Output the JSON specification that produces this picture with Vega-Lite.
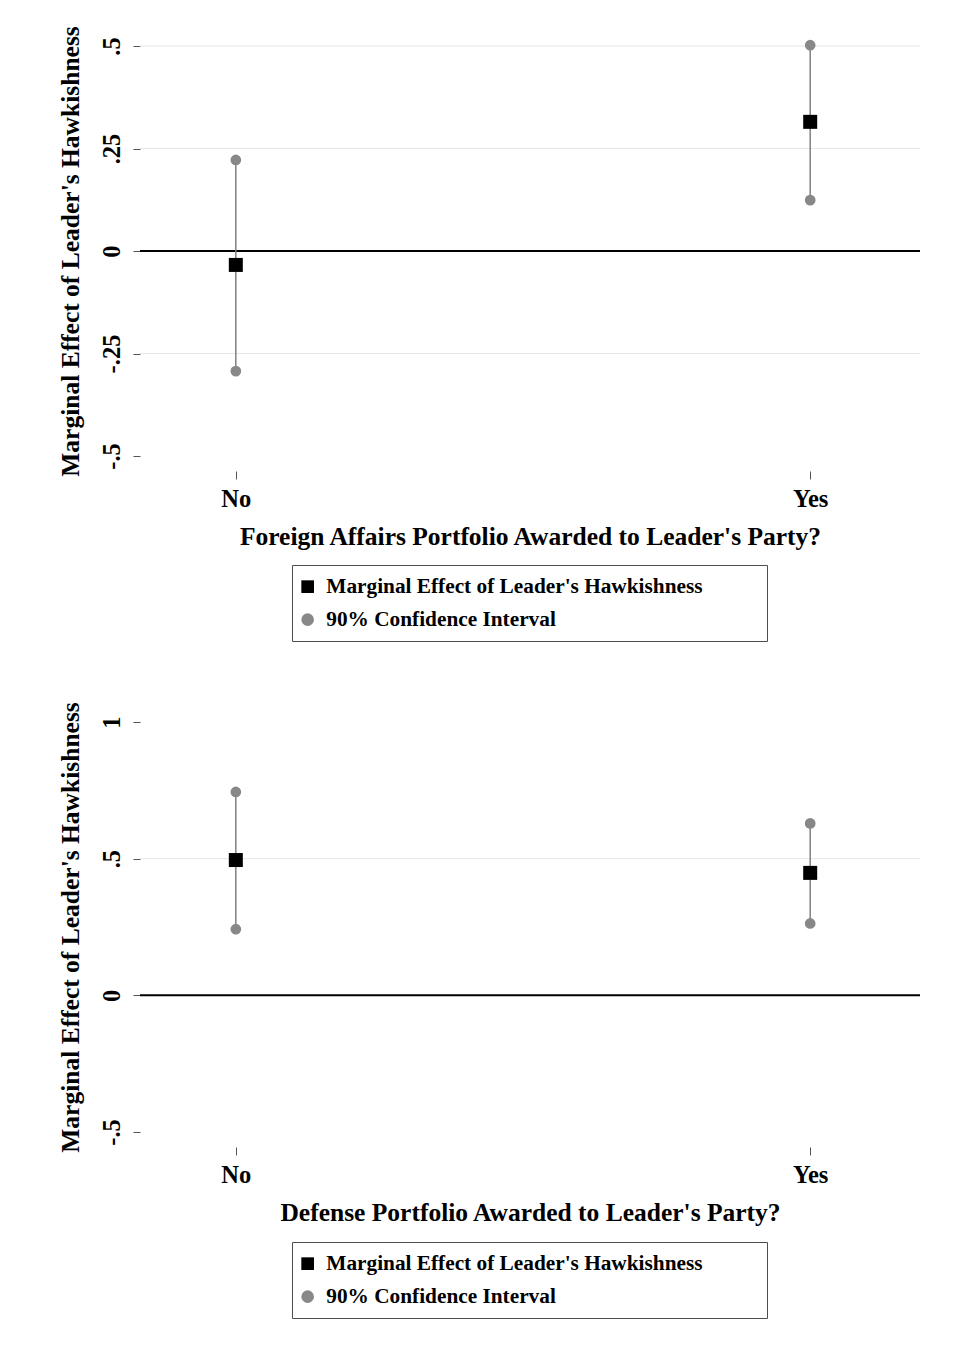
{
  "$schema": "https://vega.github.io/schema/vega-lite/v6.json",
  "background": "white",
  "padding": {"left": 58, "top": 25, "right": 5, "bottom": 5},
  "config": {
    "view": {"stroke": null},
    "font": "Liberation Serif",
    "axis": {
      "labelFont": "Liberation Serif",
      "titleFont": "Liberation Serif",
      "labelFontWeight": "bold",
      "titleFontWeight": "bold",
      "labelColor": "black",
      "titleColor": "black",
      "labelFontSize": 24.5,
      "titleFontSize": 25.5,
      "domain": false,
      "grid": false,
      "tickColor": "#555555",
      "tickWidth": 1
    },
    "axisX": {"offset": 15, "tickSize": 8, "labelPadding": 8, "titlePadding": 14, "labelAngle": 0},
    "axisY": {"tickSize": 7, "labelPadding": 9, "titlePadding": 16, "labelAngle": 270},
    "legend": {
      "orient": "none",
      "title": null,
      "direction": "vertical",
      "strokeColor": "#4d4d4d",
      "fillColor": "white",
      "padding": 11,
      "labelFont": "Liberation Serif",
      "labelFontSize": 21.3,
      "labelFontWeight": "bold",
      "labelColor": "black",
      "labelLimit": 0,
      "rowPadding": 11,
      "labelOffset": 8,
      "symbolOffset": -6,
      "symbolSize": 160,
      "symbolStrokeWidth": 0
    }
  },
  "datasets": {
    "pts": [
      {"panel": "top", "cat": "No", "series": "Marginal Effect of Leader's Hawkishness", "value": -0.034},
      {"panel": "top", "cat": "No", "series": "90% Confidence Interval", "value": 0.222},
      {"panel": "top", "cat": "No", "series": "90% Confidence Interval", "value": -0.293},
      {"panel": "top", "cat": "Yes", "series": "Marginal Effect of Leader's Hawkishness", "value": 0.315},
      {"panel": "top", "cat": "Yes", "series": "90% Confidence Interval", "value": 0.502},
      {"panel": "top", "cat": "Yes", "series": "90% Confidence Interval", "value": 0.124},
      {"panel": "bottom", "cat": "No", "series": "Marginal Effect of Leader's Hawkishness", "value": 0.495},
      {"panel": "bottom", "cat": "No", "series": "90% Confidence Interval", "value": 0.744},
      {"panel": "bottom", "cat": "No", "series": "90% Confidence Interval", "value": 0.242},
      {"panel": "bottom", "cat": "Yes", "series": "Marginal Effect of Leader's Hawkishness", "value": 0.448},
      {"panel": "bottom", "cat": "Yes", "series": "90% Confidence Interval", "value": 0.629},
      {"panel": "bottom", "cat": "Yes", "series": "90% Confidence Interval", "value": 0.263}
    ]
  },
  "spacing": 59,
  "vconcat": [
    {
      "width": 780,
      "height": 410,
      "layer": [
        {
          "data": {"values": [{"g": 0.5}, {"g": 0.25}, {"g": -0.25}]},
          "mark": {"type": "rule", "color": "#e6e6e6", "strokeWidth": 1},
          "encoding": {"y": {"field": "g", "type": "quantitative", "title": "Marginal Effect of Leader's Hawkishness", "scale": {"domain": [-0.5, 0.5], "nice": false, "zero": false}}}
        },
        {
          "data": {"values": [{"z": 0}]},
          "mark": {"type": "rule", "color": "black", "strokeWidth": 2},
          "encoding": {"y": {"field": "z", "type": "quantitative", "title": "Marginal Effect of Leader's Hawkishness", "scale": {"domain": [-0.5, 0.5], "nice": false, "zero": false}}}
        },
        {
          "data": {"name": "pts"},
          "transform": [{"filter": "datum.panel == 'top' && datum.series == '90% Confidence Interval'"}],
          "mark": {"type": "rule", "color": "#808080", "strokeWidth": 1.5},
          "encoding": {
            "x": {"field": "cat", "type": "nominal", "title": "Foreign Affairs Portfolio Awarded to Leader's Party?", "scale": {"type": "point", "padding": 0.179, "align": 0.466}},
            "y": {"aggregate": "min", "field": "value", "type": "quantitative", "title": "Marginal Effect of Leader's Hawkishness", "scale": {"domain": [-0.5, 0.5], "nice": false, "zero": false}},
            "y2": {"aggregate": "max", "field": "value"}
          }
        },
        {
          "data": {"name": "pts"},
          "transform": [{"filter": "datum.panel == 'top' && datum.series == '90% Confidence Interval'"}],
          "mark": {"type": "point", "filled": true, "opacity": 1, "size": 115},
          "encoding": {
            "x": {"field": "cat", "type": "nominal", "title": "Foreign Affairs Portfolio Awarded to Leader's Party?", "scale": {"type": "point", "padding": 0.179, "align": 0.466}},
            "y": {"field": "value", "type": "quantitative", "title": "Marginal Effect of Leader's Hawkishness", "scale": {"domain": [-0.5, 0.5], "nice": false, "zero": false}},
            "color": {"field": "series", "type": "nominal", "scale": {"domain": ["Marginal Effect of Leader's Hawkishness", "90% Confidence Interval"], "range": ["#000000", "#888888"]}},
            "shape": {"field": "series", "type": "nominal", "scale": {"domain": ["Marginal Effect of Leader's Hawkishness", "90% Confidence Interval"], "range": ["square", "circle"]}}
          }
        },
        {
          "data": {"name": "pts"},
          "transform": [{"filter": "datum.panel == 'top' && datum.series != '90% Confidence Interval'"}],
          "mark": {"type": "point", "filled": true, "opacity": 1, "size": 196},
          "encoding": {
            "x": {"field": "cat", "type": "nominal", "title": "Foreign Affairs Portfolio Awarded to Leader's Party?", "scale": {"type": "point", "padding": 0.179, "align": 0.466}},
            "y": {
              "field": "value", "type": "quantitative", "title": "Marginal Effect of Leader's Hawkishness",
              "scale": {"domain": [-0.5, 0.5], "nice": false, "zero": false},
              "axis": {"values": [-0.5, -0.25, 0, 0.25, 0.5], "labelExpr": "replace(toString(datum.value), '0.', '.')"}
            },
            "color": {
              "field": "series", "type": "nominal",
              "scale": {"domain": ["Marginal Effect of Leader's Hawkishness", "90% Confidence Interval"], "range": ["#000000", "#888888"]},
              "legend": {"legendX": 152, "legendY": 519, "labelExpr": "datum.label + '\u00a0\u00a0\u00a0\u00a0\u00a0\u00a0\u00a0\u00a0\u00a0\u00a0\u200b'"}
            },
            "shape": {
              "field": "series", "type": "nominal",
              "scale": {"domain": ["Marginal Effect of Leader's Hawkishness", "90% Confidence Interval"], "range": ["square", "circle"]},
              "legend": {"legendX": 152, "legendY": 519, "labelExpr": "datum.label + '\u00a0\u00a0\u00a0\u00a0\u00a0\u00a0\u00a0\u00a0\u00a0\u00a0\u200b'"}
            }
          }
        }
      ]
    },
    {
      "width": 780,
      "height": 410,
      "layer": [
        {
          "data": {"values": [{"g": 0.5}]},
          "mark": {"type": "rule", "color": "#e6e6e6", "strokeWidth": 1},
          "encoding": {"y": {"field": "g", "type": "quantitative", "title": "Marginal Effect of Leader's Hawkishness", "scale": {"domain": [-0.5, 1], "nice": false, "zero": false}}}
        },
        {
          "data": {"values": [{"z": 0}]},
          "mark": {"type": "rule", "color": "black", "strokeWidth": 2},
          "encoding": {"y": {"field": "z", "type": "quantitative", "title": "Marginal Effect of Leader's Hawkishness", "scale": {"domain": [-0.5, 1], "nice": false, "zero": false}}}
        },
        {
          "data": {"name": "pts"},
          "transform": [{"filter": "datum.panel == 'bottom' && datum.series == '90% Confidence Interval'"}],
          "mark": {"type": "rule", "color": "#808080", "strokeWidth": 1.5},
          "encoding": {
            "x": {"field": "cat", "type": "nominal", "title": "Defense Portfolio Awarded to Leader's Party?", "scale": {"type": "point", "padding": 0.179, "align": 0.466}},
            "y": {"aggregate": "min", "field": "value", "type": "quantitative", "title": "Marginal Effect of Leader's Hawkishness", "scale": {"domain": [-0.5, 1], "nice": false, "zero": false}},
            "y2": {"aggregate": "max", "field": "value"}
          }
        },
        {
          "data": {"name": "pts"},
          "transform": [{"filter": "datum.panel == 'bottom' && datum.series == '90% Confidence Interval'"}],
          "mark": {"type": "point", "filled": true, "opacity": 1, "size": 115},
          "encoding": {
            "x": {"field": "cat", "type": "nominal", "title": "Defense Portfolio Awarded to Leader's Party?", "scale": {"type": "point", "padding": 0.179, "align": 0.466}},
            "y": {"field": "value", "type": "quantitative", "title": "Marginal Effect of Leader's Hawkishness", "scale": {"domain": [-0.5, 1], "nice": false, "zero": false}},
            "color": {"field": "series", "type": "nominal", "scale": {"domain": ["Marginal Effect of Leader's Hawkishness", "90% Confidence Interval"], "range": ["#000000", "#888888"]}},
            "shape": {"field": "series", "type": "nominal", "scale": {"domain": ["Marginal Effect of Leader's Hawkishness", "90% Confidence Interval"], "range": ["square", "circle"]}}
          }
        },
        {
          "data": {"name": "pts"},
          "transform": [{"filter": "datum.panel == 'bottom' && datum.series != '90% Confidence Interval'"}],
          "mark": {"type": "point", "filled": true, "opacity": 1, "size": 196},
          "encoding": {
            "x": {"field": "cat", "type": "nominal", "title": "Defense Portfolio Awarded to Leader's Party?", "scale": {"type": "point", "padding": 0.179, "align": 0.466}},
            "y": {
              "field": "value", "type": "quantitative", "title": "Marginal Effect of Leader's Hawkishness",
              "scale": {"domain": [-0.5, 1], "nice": false, "zero": false},
              "axis": {"values": [-0.5, 0, 0.5, 1], "labelExpr": "replace(toString(datum.value), '0.', '.')"}
            },
            "color": {
              "field": "series", "type": "nominal",
              "scale": {"domain": ["Marginal Effect of Leader's Hawkishness", "90% Confidence Interval"], "range": ["#000000", "#888888"]},
              "legend": {"legendX": 152, "legendY": 520, "labelExpr": "datum.label + '\u00a0\u00a0\u00a0\u00a0\u00a0\u00a0\u00a0\u00a0\u00a0\u00a0\u200b'"}
            },
            "shape": {
              "field": "series", "type": "nominal",
              "scale": {"domain": ["Marginal Effect of Leader's Hawkishness", "90% Confidence Interval"], "range": ["square", "circle"]},
              "legend": {"legendX": 152, "legendY": 520, "labelExpr": "datum.label + '\u00a0\u00a0\u00a0\u00a0\u00a0\u00a0\u00a0\u00a0\u00a0\u00a0\u200b'"}
            }
          }
        }
      ]
    }
  ],
  "resolve": {
    "scale": {"x": "independent", "y": "independent", "color": "independent", "shape": "independent"},
    "legend": {"color": "independent", "shape": "independent"}
  }
}
